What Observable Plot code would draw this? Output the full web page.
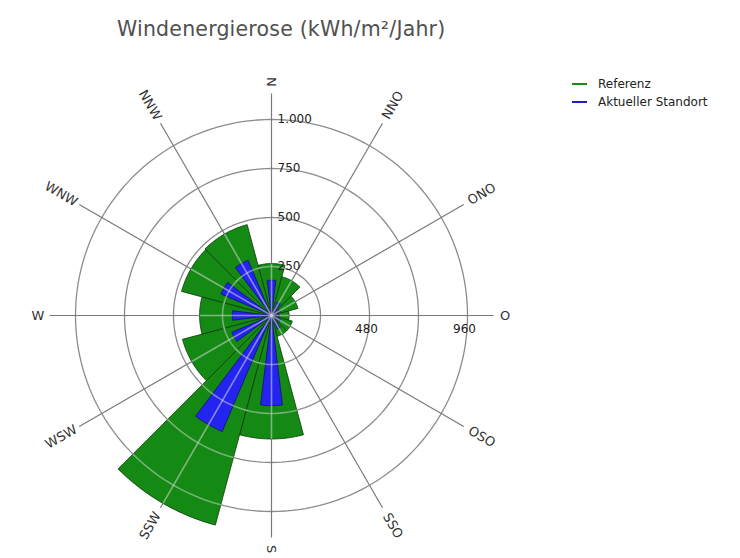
<!DOCTYPE html>
<html><head><meta charset="utf-8">
<script src="https://cdn.jsdelivr.net/npm/d3@7"></script>
<script src="https://cdn.jsdelivr.net/npm/@observablehq/plot@0.6"></script>
<style>
body{margin:0;background:#fff;}
#wrap{position:relative;width:740px;height:558px;font-family:"DejaVu Sans",sans-serif;overflow:hidden;}
#title{position:absolute;left:117px;top:17px;font-size:20.5px;color:#505050;white-space:nowrap;letter-spacing:0.2px;}
#legend{position:absolute;left:572px;top:75px;font-size:12px;color:#222;line-height:18px;}
#legend .row{display:flex;align-items:center;white-space:nowrap;}
#legend .sw{display:inline-block;width:15px;height:2px;margin-right:11px;}
#chart{position:absolute;left:0;top:0;}
</style></head><body>
<div id="wrap"><div id="chart"></div><div id="title">Windenergierose (kWh/m²/Jahr)</div><div id="legend"></div></div>
<script>
// ---- data ----
const directions = ["N","NNO","ONO","O","OSO","SSO","S","SSW","WSW","W","WNW","NNW"];
const referenz   = [265, 205, 140, 90, 110, 110, 630, 1107, 470, 367, 475, 480];
const aktuell    = [180,  75,  50, 40,  50,  75, 460,  643, 220, 200, 280, 306];
const ringTicks  = [250, 500, 750, 1000];
const ringLabels = ["250", "500", "750", "1.000"];
const eastTicks  = [480, 960];
const seriesNames = ["Referenz", "Aktueller Standort"];
const seriesColors = ["#148a14", "#2424f0"];
const legendColors = ["#1a8a1a", "#2020c0"];

// ---- geometry helpers ----
const deg = Math.PI / 180;
const step = 360 / directions.length;
const pxPerUnit = 0.196;         // 1000 units -> 196 px
const cx = 271, cy = 315, W = 740, H = 558;
const rOuter = 1000;
const spokeEnd = 222 / pxPerUnit;
const pt = (r, b) => [r * Math.sin(b * deg), r * Math.cos(b * deg)];

function wedge(id, b, half, r) {
  const pts = [{id, x: 0, y: 0}];
  const n = 24;
  for (let i = 0; i <= n; i++) {
    const a = b - half + (2 * half) * i / n;
    const [x, y] = pt(r, a);
    pts.push({id, x, y});
  }
  pts.push({id, x: 0, y: 0});
  return pts;
}
function arc(id, r, a0, a1, n) {
  const pts = [];
  for (let i = 0; i <= n; i++) {
    const a = a0 + (a1 - a0) * i / n;
    const [x, y] = pt(r, a);
    pts.push({id, x, y});
  }
  return pts;
}

const green = directions.flatMap((d, i) => wedge("g" + i, i * step, 15, referenz[i]));
const blue = directions.flatMap((d, i) => wedge("b" + i, i * step, 7, aktuell[i]));
const rings = ringTicks.flatMap((v, i) => arc("r" + i, v, 0, 360, 180));
const spokes = directions.map((d, i) => {
  const [x2, y2] = pt(spokeEnd, i * step);
  return {x1: 0, y1: 0, x2, y2};
});
// light grid overlay inside bars
const overSpokes = directions.map((d, i) => {
  const [x2, y2] = pt(referenz[i], i * step);
  return {x1: 0, y1: 0, x2, y2};
});
const overArcs = directions.flatMap((d, i) =>
  ringTicks.filter(v => v < referenz[i]).flatMap(v => arc("o" + i + "_" + v, v, i * step - 15, i * step + 15, 12)));

const dirLabels = directions.map((d, i) => {
  const b = i * step;
  const rpx = 222 + 7 + d.length * 4.6;
  const [x, y] = pt(rpx / pxPerUnit, b);
  let rot = (((b - 270) % 180) + 180) % 180;
  if (rot > 90) rot -= 180;
  return {x, y, text: d, rot};
});
const ringText = ringTicks.map((v, i) => ({x: 0, y: v, text: ringLabels[i]}));
const eastText = eastTicks.map(v => ({x: v * rOuter / eastTicks[eastTicks.length - 1], y: 0, text: String(v)}));

const chart = Plot.plot({
  width: W, height: H, margin: 0,
  style: {background: "transparent", fontFamily: "DejaVu Sans, sans-serif"},
  x: {domain: [-cx / pxPerUnit, (W - cx) / pxPerUnit], axis: null},
  y: {domain: [-(H - cy) / pxPerUnit, cy / pxPerUnit], axis: null},
  marks: [
    Plot.line(rings, {x: "x", y: "y", z: "id", stroke: "#8c8c8c", strokeWidth: 1.3}),
    Plot.link(spokes, {x1: "x1", y1: "y1", x2: "x2", y2: "y2", stroke: "#7a7a7a", strokeWidth: 1.2}),
    Plot.line(green, {x: "x", y: "y", z: "id", fill: seriesColors[0], stroke: "#0a3a0a", strokeWidth: 0.8, strokeLinejoin: "round"}),
    Plot.line(blue, {x: "x", y: "y", z: "id", fill: seriesColors[1], stroke: "#10106a", strokeWidth: 0.8, strokeLinejoin: "round"}),
    Plot.line(overArcs, {x: "x", y: "y", z: "id", stroke: "#d8d8d8", strokeOpacity: 0.5, strokeWidth: 1.6}),
    Plot.link(overSpokes, {x1: "x1", y1: "y1", x2: "x2", y2: "y2", stroke: "#d8d8d8", strokeOpacity: 0.55, strokeWidth: 1.6}),
    Plot.text(ringText, {x: "x", y: "y", text: "text", textAnchor: "start", dx: 6, fontSize: 12, fill: "#222", letterSpacing: "-0.4px"}),
    Plot.text(eastText, {x: "x", y: "y", text: "text", textAnchor: "middle", dx: -3, dy: 14, fontSize: 12, fill: "#222", letterSpacing: "-0.4px"}),
    Plot.text(dirLabels, {x: "x", y: "y", text: "text", rotate: "rot", fontSize: 13, fill: "#333"})
  ]
});
document.getElementById("chart").appendChild(chart);

const legend = document.getElementById("legend");
seriesNames.forEach((n, i) => {
  const row = document.createElement("div");
  row.className = "row";
  row.innerHTML = `<span class="sw" style="background:${legendColors[i]}"></span><span>${n}</span>`;
  legend.appendChild(row);
});
</script>
</body></html>
